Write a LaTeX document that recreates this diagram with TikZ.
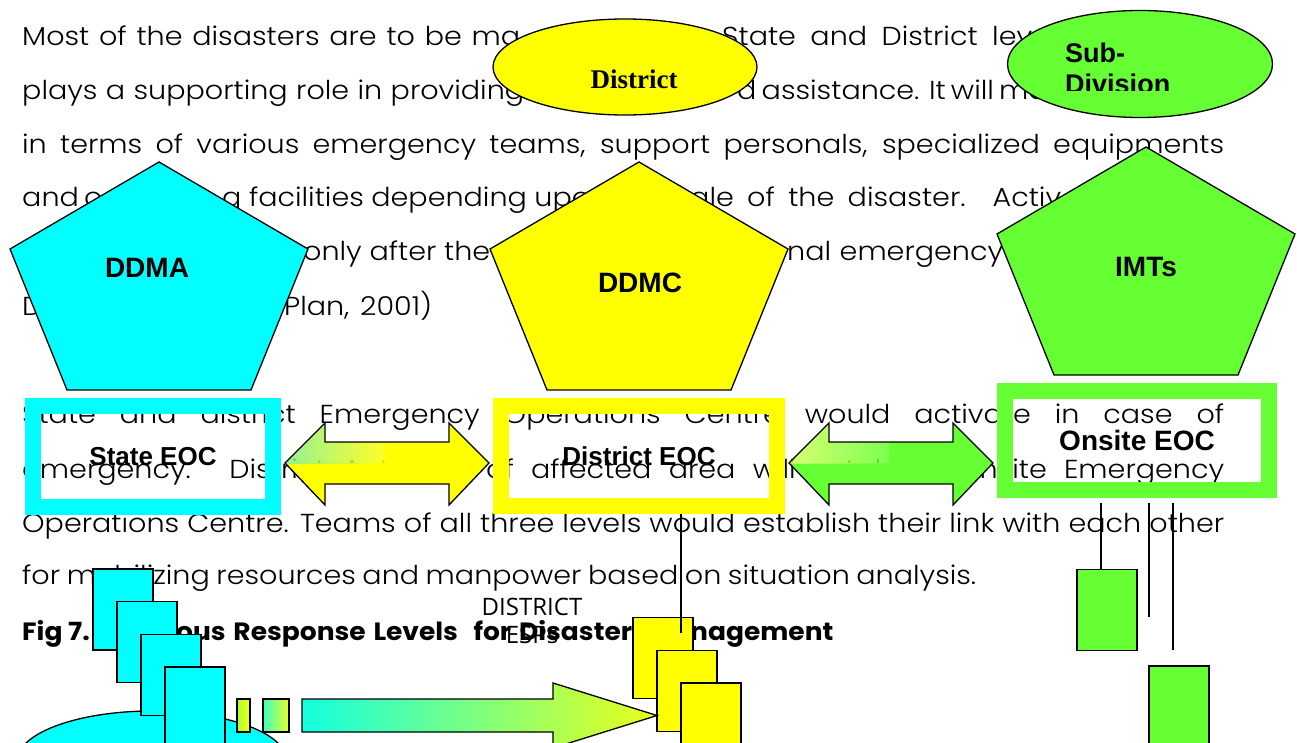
\documentclass[tikz,border=0pt]{standalone}
\usepackage{fontspec}
\usepackage{tikz}
\usetikzlibrary{shapes.geometric, calc, positioning}
\IfFontExistsTF{Poppins Light}{\newfontfamily\bodyfont{Poppins Light}[FakeStretch=1.1]}{\newfontfamily\bodyfont{Poppins}[FakeStretch=1.1]}
\newfontfamily\capfont{Poppins}[FakeStretch=1.06]
\newfontfamily\labelfont{Liberation Sans}
\newfontfamily\seriflabel{Liberation Serif}
\newfontfamily\espfont{Open Sans}
\definecolor{lvcyan}{RGB}{0,255,255}
\definecolor{lvyellow}{RGB}{255,255,0}
\definecolor{lvgreen}{RGB}{102,255,51}
\definecolor{glowyellow}{RGB}{130,240,130}
\definecolor{glowgreen}{RGB}{210,255,90}
\definecolor{tailgreen}{RGB}{160,255,70}
\definecolor{tailcyan}{RGB}{60,255,190}
\definecolor{tailyellow}{RGB}{230,255,40}
\definecolor{flowcyan}{RGB}{20,255,225}
\definecolor{flowmid}{RGB}{110,255,130}
\definecolor{flowtip}{RGB}{235,255,25}
\tikzstyle{body} = [anchor=base west, inner sep=0pt, font=\bodyfont\fontsize{26}{26}\selectfont]
\tikzstyle{caption} = [anchor=base west, inner sep=0pt, font=\capfont\bfseries\fontsize{25}{25}\selectfont]
\tikzstyle{outline} = [draw=black, line width=1.3pt]
\tikzstyle{levellabel} = [inner sep=0pt, font=\labelfont\bfseries\fontsize{28}{28}\selectfont]
\tikzstyle{eoc} = [rectangle, line width=16pt, inner sep=0pt, font=\labelfont\bfseries\fontsize{26}{26}\selectfont]
\tikzstyle{espbox} = [rectangle, outline, minimum width=60, minimum height=81, inner sep=0pt]
\tikzstyle{esptext} = [anchor=base, inner sep=0pt, font=\espfont\fontsize{24}{24}\selectfont]
\tikzstyle{wire} = [line width=1.5pt]
\newcommand{\justline}[2]{\makebox[#1pt][s]{#2}}
\newcommand{\levelpent}[3]{\draw[outline, fill=#3] (#1,#2) -- ++(149,87) -- ++(-57,141) -- ++(-184,0) -- ++(-57,-141) -- cycle;}
\newcommand{\arrowpath}[1]{(#1,463) -- ++(40,-40) -- ++(0,19) -- ++(124,0) -- ++(0,-19) -- ++(40,40) -- ++(-40,42) -- ++(0,-21) -- ++(-124,0) -- ++(0,21) -- cycle}
\newcommand{\twoway}[3]{%
	\begin{scope}
		\clip \arrowpath{#1};
		\fill[#2, even odd rule] (#1,420) rectangle ++(210,90) (#1,423) rectangle ++(100,40);
		\shade[left color=#3, right color=#2, opacity=0.85] (#1,423) rectangle ++(100,40);
	\end{scope}
	\draw[outline] \arrowpath{#1};}

\begin{document}
\begin{tikzpicture}[x=1pt, y=-1pt]
	\useasboundingbox[fill=white] (0,0) rectangle (1297,743);
	\node[body] (l1a) at (22,46) {\justline{498}{Most of the disasters are to be ma}};
	\node[body] (l1b) at (722,46) {\justline{310}{State and District lev}};
	\node[body] (l2a) at (22,100) {\justline{502}{plays a supporting role in providing}};
	\node[body] (l2b) at (737,100) {\justline{303}{d assistance. It will mo}};
	\node[body] (l3) at (22,154) {\justline{1202}{in terms of various emergency teams, support personals, specialized equipments}};
	\node[body] (l4a) at (22,207) {\justline{80}{and o}};
	\node[body] (l4b) at (222,207) {\justline{368}{g facilities depending upo}};
	\node[body] (l4c) at (690,207) {\justline{371}{ale of the disaster. Activ}};
	\node[body] (l5a) at (303,260) {\justline{187}{only after the}};
	\node[body] (l5b) at (787,260) {\justline{216}{nal emergency}};
	\node[body] (l6a) at (22,315) {D};
	\node[body] (l6b) at (284,315) {\justline{148}{Plan, 2001)}};
	\node[body] (l7) at (22,423) {\justline{1202}{State and district Emergency Operations Centre would activate in case of}};
	\node[body] (l8) at (22,478) {\justline{1202}{emergency. District Authority of affected area will establish Onsite Emergency}};
	\node[body] (l9) at (22,532) {\justline{1202}{Operations Centre. Teams of all three levels would establish their link with each other}};
	\node[body] (l10) at (22,584) {\justline{954}{for mobilizing resources and manpower based on situation analysis.}};
	\node[caption] (figa) at (22,640) {Fig 7.};
	\node[caption] (figb) at (176,640) {\justline{456}{ous Response Levels\ \ for Disaster}};
	\node[caption] (figc) at (690,640) {nagement};
	\node[esptext] (espa) at (532,615) {DISTRICT};
	\node[esptext] (espb) at (532,643) {ESPs};

	\levelpent{159}{162}{lvcyan}
	\levelpent{639}{162}{lvyellow}
	\levelpent{1146}{147}{lvgreen}
	\node[levellabel] (ddma) at (147,268) {DDMA};
	\node[levellabel] (ddmc) at (640,283) {DDMC};
	\node[levellabel] (imts) at (1146,267) {IMTs};

	\node[ellipse, outline, fill=lvyellow, minimum width=264, minimum height=96] (district) at (625,67) {};
	\node[anchor=base, inner sep=0pt, font=\seriflabel\bfseries\fontsize{27}{27}\selectfont] (districtlbl) at (634,89) {District};
	\node[ellipse, outline, fill=lvgreen, minimum width=265, minimum height=107] (subdiv) at (1140,64) {};
	\begin{scope}
		\clip (1000,20) rectangle (1280,91);
		\node[levellabel, anchor=base west, font=\labelfont\bfseries\fontsize{27}{27}\selectfont] (subdiva) at (1065,63) {Sub-};
		\node[levellabel, anchor=base west, font=\labelfont\bfseries\fontsize{27}{27}\selectfont] (subdivb) at (1065,94) {Division};
	\end{scope}

	\node[eoc, draw=lvcyan, minimum width=240, minimum height=101] (stateeoc) at (153,456.5) {State EOC};
	\node[eoc, draw=lvyellow, minimum width=276, minimum height=100] (districteoc) at (639,456) {District EOC};
	\node[eoc, draw=lvgreen, minimum width=264, minimum height=99, font=\labelfont\bfseries\fontsize{28}{28}\selectfont] (onsiteeoc) at (1137,440.5) {Onsite EOC};
	\twoway{285}{lvyellow}{glowyellow}
	\twoway{789}{lvgreen}{glowgreen}

	\node[ellipse, outline, fill=lvcyan, minimum width=270, minimum height=100] (stateesp) at (152,761) {};
	\foreach \i in {0,...,3}
		\node[espbox, fill=lvcyan] (sesp\i) at ({123+24*\i},{609.5+32.7*\i}) {};
	\shade[outline, left color=tailgreen, right color=lvyellow] (237,699) rectangle (250,732);
	\shade[outline, left color=tailcyan, right color=tailyellow] (263,699) rectangle (289,732);
	\foreach \i in {0,1,2}
		\node[espbox, fill=lvyellow] (desp\i) at ({663+24*\i},{658+32.7*\i}) {};
	\shade[outline, left color=flowcyan, middle color=flowmid, right color=flowtip] (302,699) -- (553,699) -- (553,683) -- (657,715.5) -- (553,748) -- (553,732) -- (302,732) -- cycle;
	\coordinate (dend) at (681,633);
	\draw[wire] (districteoc.south -| dend) -- (dend);

	\node[espbox, fill=lvgreen] (oesp0) at (1107,610) {};
	\node[espbox, fill=lvgreen] (oesp1) at (1179,706.5) {};
	\coordinate (oa) at (1101,569);
	\coordinate (ob) at (1149,617);
	\coordinate (oc) at (1173,650);
	\draw[wire, shorten <=5pt] (onsiteeoc.south -| oa) -- (oa |- oesp0.north);
	\draw[wire, shorten <=5pt] (onsiteeoc.south -| ob) -- (ob);
	\draw[wire, shorten <=5pt] (onsiteeoc.south -| oc) -- (oc);
\end{tikzpicture}
\end{document}
